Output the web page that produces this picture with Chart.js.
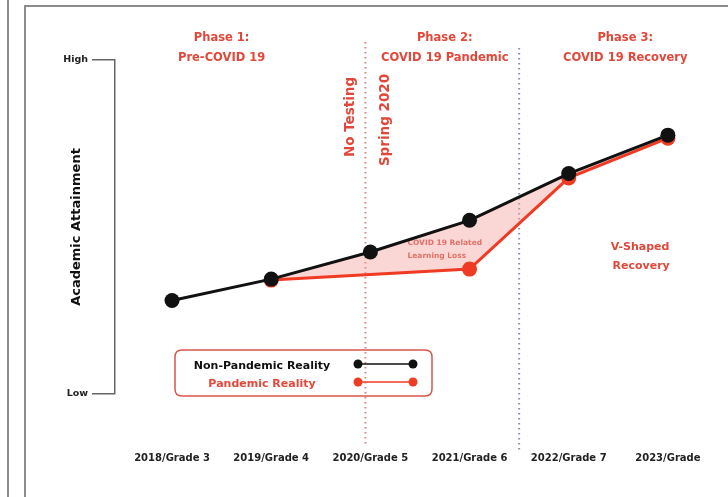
<!DOCTYPE html>
<html>
<head>
<meta charset="utf-8">
<script src="https://cdn.jsdelivr.net/npm/chart.js@4.4.1/dist/chart.umd.min.js"></script>
<style>
html,body{margin:0;padding:0;background:#fff;}
#wrap{width:728px;height:497px;}
</style>
</head>
<body>
<div id="wrap"><canvas id="c" width="728" height="497"></canvas></div>
<script>
const categories = ['2018/Grade 3','2019/Grade 4','2020/Grade 5','2021/Grade 6','2022/Grade 7','2023/Grade'];
const nonPandemic = [28, 34.4, 42.5, 52, 66, 77.5];
const pandemic = [null, 34.1, null, 37.4, 64.7, 76.6];
const seriesNames = ['Non-Pandemic Reality','Pandemic Reality'];
const yTickLabels = {0:'Low', 100:'High'};
const yTitle = 'Academic Attainment';
const phaseTitles = [['Phase 1:','Pre-COVID 19'],['Phase 2:','COVID 19 Pandemic'],['Phase 3:','COVID 19 Recovery']];
const markerNotes = ['No Testing','Spring 2020'];
const lossNote = ['COVID 19 Related','Learning Loss'];
const recoveryNote = ['V-Shaped','Recovery'];

const FONT = '"DejaVu Sans", sans-serif';
const BLACK = '#111111';
const RED = '#ef3b24';
const TXTRED = '#e2483a';

const toPts = arr => arr.map((v,i)=>({x:i,y:v})).filter(p=>p.y!==null);

const deco = {
  id:'deco',
  beforeDraw(chart){
    const ctx = chart.ctx;
    ctx.save();
    ctx.fillStyle = '#fff';
    ctx.fillRect(0,0,chart.width,chart.height);
    ctx.strokeStyle = '#8c8c8c';
    ctx.lineWidth = 2;
    ctx.beginPath();
    ctx.moveTo(8,0); ctx.lineTo(8,chart.height);
    ctx.moveTo(25,chart.height); ctx.lineTo(25,6); ctx.lineTo(chart.width,6);
    ctx.stroke();
    ctx.restore();
  },
  beforeDatasetsDraw(chart){
    const ctx = chart.ctx, xs = chart.scales.x;
    ctx.save();
    const x1 = xs.getPixelForValue(1.95);
    const x2 = xs.getPixelForValue(3.5);
    ctx.lineWidth = 2;
    ctx.setLineDash([1.5,3.5]);
    ctx.strokeStyle = '#c98b86';
    ctx.beginPath(); ctx.moveTo(x1, 42); ctx.lineTo(x1, 446); ctx.stroke();
    ctx.strokeStyle = '#8c93a8';
    ctx.beginPath(); ctx.moveTo(x2, 48); ctx.lineTo(x2, 452); ctx.stroke();
    ctx.setLineDash([]);
    ctx.fillStyle = TXTRED;
    ctx.textAlign = 'center';
    ctx.textBaseline = 'middle';
    ctx.font = 'bold 11.5px ' + FONT;
    const phX = [0.5, 2.75, 4.57];
    phaseTitles.forEach((t,i)=>{
      const px = xs.getPixelForValue(phX[i]);
      ctx.fillText(t[0], px, 38);
      ctx.fillText(t[1], px, 58);
    });
    ctx.font = 'bold 13.5px ' + FONT;
    [[x1-15, 117, markerNotes[0]],[x1+20, 120, markerNotes[1]]].forEach(([x,y,t])=>{
      ctx.save(); ctx.translate(x,y); ctx.rotate(-Math.PI/2); ctx.fillText(t,0,0); ctx.restore();
    });
    ctx.font = 'bold 7.5px ' + FONT;
    ctx.fillStyle = '#d8443a';
    ctx.fillText(lossNote[0], xs.getPixelForValue(2.75), 243);
    ctx.fillText(lossNote[1], xs.getPixelForValue(2.67), 256);
    ctx.font = 'bold 11px ' + FONT;
    ctx.fillStyle = TXTRED;
    ctx.fillText(recoveryNote[0], xs.getPixelForValue(4.72), 247);
    ctx.fillText(recoveryNote[1], xs.getPixelForValue(4.73), 266);
    ctx.restore();
  },
  afterDraw(chart){
    const ctx = chart.ctx;
    ctx.save();
    const bx = 175, by = 350, bw = 257, bh = 46, r = 7;
    ctx.strokeStyle = '#d9564c';
    ctx.lineWidth = 1.5;
    ctx.beginPath();
    ctx.moveTo(bx+r,by); ctx.lineTo(bx+bw-r,by); ctx.quadraticCurveTo(bx+bw,by,bx+bw,by+r);
    ctx.lineTo(bx+bw,by+bh-r); ctx.quadraticCurveTo(bx+bw,by+bh,bx+bw-r,by+bh);
    ctx.lineTo(bx+r,by+bh); ctx.quadraticCurveTo(bx,by+bh,bx,by+bh-r);
    ctx.lineTo(bx,by+r); ctx.quadraticCurveTo(bx,by,bx+r,by);
    ctx.stroke();
    const ds = chart.data.datasets;
    const rows = [[366, 364],[384, 382]];
    ctx.textAlign = 'center';
    ctx.textBaseline = 'middle';
    ctx.font = 'bold 11px ' + FONT;
    ds.forEach((d,i)=>{
      ctx.fillStyle = i===0 ? BLACK : TXTRED;
      ctx.fillText(d.label, 262, rows[i][0]);
      ctx.strokeStyle = d.borderColor;
      ctx.lineWidth = 1.5;
      ctx.beginPath(); ctx.moveTo(358, rows[i][1]); ctx.lineTo(413, rows[i][1]); ctx.stroke();
      ctx.fillStyle = d.borderColor;
      [358,413].forEach(x=>{ ctx.beginPath(); ctx.arc(x, rows[i][1], 4.5, 0, Math.PI*2); ctx.fill(); });
    });
    ctx.restore();
  }
};

new Chart(document.getElementById('c'), {
  type:'line',
  data:{
    datasets:[
      {
        label: seriesNames[0],
        data: toPts(nonPandemic),
        borderColor: BLACK,
        backgroundColor: BLACK,
        borderWidth: 3,
        pointRadius: 7.5,
        pointBorderWidth: 0,
        fill: false,
        order: 0
      },
      {
        label: seriesNames[1],
        data: toPts(pandemic),
        borderColor: RED,
        backgroundColor: RED,
        borderWidth: 3,
        pointRadius: 7.5,
        pointBorderWidth: 0,
        fill: {target: 0, above: 'rgba(0,0,0,0)', below: 'rgba(245,165,160,0.45)'},
        order: 1
      }
    ]
  },
  options:{
    responsive:false,
    animation:false,
    devicePixelRatio:1,
    layout:{padding:{left:60, top:60, right:13, bottom:32}},
    plugins:{legend:{display:false}, tooltip:{enabled:false}},
    scales:{
      x:{
        type:'linear',
        min:-0.575, max:5.475,
        afterBuildTicks: s => { s.ticks = categories.map((c,i)=>({value:i})); },
        afterFit: s => { s.height = 71; s.paddingLeft = 0; s.paddingRight = 0; },
        ticks:{
          callback: v => categories[v] ?? '',
          font:{family:FONT, weight:'bold', size:10},
          color:'#222',
          padding:58,
          maxRotation:0,
          autoSkip:false
        },
        grid:{display:false, drawTicks:false},
        border:{display:false}
      },
      y:{
        min:0, max:100,
        afterBuildTicks: s => { s.ticks = Object.keys(yTickLabels).map(v=>({value:+v})); },
        afterFit: s => { s.width = 55; s.paddingTop = 0; s.paddingBottom = 0; },
        ticks:{
          callback: v => yTickLabels[v] ?? '',
          font:{family:FONT, weight:'bold', size:9.5},
          color:'#222',
          padding:4
        },
        grid:{drawOnChartArea:false, drawTicks:true, tickLength:23, color:'#666', lineWidth:1.5},
        border:{display:true, color:'#666', width:1.5},
        title:{display:true, text:yTitle, font:{family:FONT, weight:'bold', size:13}, color:'#111', padding:{top:9, bottom:0}}
      }
    }
  },
  plugins:[deco]
});
</script>
</body>
</html>
